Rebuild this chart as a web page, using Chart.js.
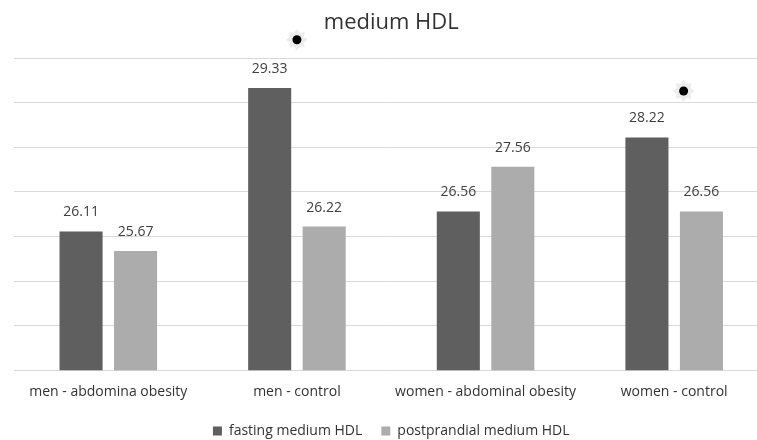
<!DOCTYPE html>
<html>
<head>
<meta charset="utf-8">
<script src="https://cdn.jsdelivr.net/npm/chart.js@4/dist/chart.umd.min.js"></script>
<style>
  html, body { margin: 0; padding: 0; background: #ffffff; overflow: hidden; }
  canvas { display: block; }
</style>
</head>
<body>
<canvas id="c" width="772" height="440"></canvas>
<script>
// ---- data ----
const categories = ["men - abdomina obesity", "men - control", "women - abdominal obesity", "women - control"];
const fastingValues = [26.11, 29.33, 26.56, 28.22];
const postprandialValues = [25.67, 26.22, 27.56, 26.56];
const seriesNames = ["fasting medium HDL", "postprandial medium HDL"];
// significance markers: category index, shift within category, value height
const markerCategory = [1, 3];
const markerShift = [0, 0.05];
const markerY = [30.41, 29.26];
const yMin = 23, yMax = 30, yStep = 1;

function drawMarker(g, cx, cy) {
  const ro = 11, ri = 7.5, n = 8;
  g.beginPath();
  for (let i = 0; i < n * 2; i++) {
    const r = i % 2 === 0 ? ro : ri;
    const a = -Math.PI / 2 + i * Math.PI / n;
    const x = cx + r * Math.cos(a), y = cy + r * Math.sin(a);
    if (i === 0) g.moveTo(x, y); else g.lineTo(x, y);
  }
  g.closePath();
  g.fillStyle = '#ededed';
  g.fill();
  g.beginPath();
  g.arc(cx, cy, 4.5, 0, Math.PI * 2);
  g.fillStyle = '#000000';
  g.fill();
}

const overlay = {
  id: 'overlay',
  afterDatasetsDraw(chart) {
    const ctx = chart.ctx;
    const xs = chart.scales.x, ys = chart.scales.y;
    ctx.save();
    ctx.font = '14px "Open Sans", sans-serif';
    ctx.textAlign = 'center';
    ctx.textBaseline = 'middle';
    [0, 1].forEach(di => {
      const meta = chart.getDatasetMeta(di);
      meta.data.forEach((bar, i) => {
        const v = chart.data.datasets[di].data[i];
        ctx.fillStyle = '#404040';
        ctx.fillText(v.toFixed(2), bar.x, bar.y - 19);
      });
    });
    const catW = xs.getPixelForValue(1) - xs.getPixelForValue(0);
    markerCategory.forEach((c, i) => {
      const px = xs.getPixelForValue(c) + markerShift[i] * catW;
      const py = ys.getPixelForValue(markerY[i]);
      drawMarker(ctx, px, py);
    });
    ctx.restore();
  }
};

new Chart(document.getElementById('c'), {
  type: 'bar',
  data: {
    labels: categories,
    datasets: [
      {
        label: seriesNames[0],
        data: fastingValues,
        backgroundColor: '#5f5f5f',
        borderWidth: 0
      },
      {
        label: seriesNames[1],
        data: postprandialValues,
        backgroundColor: '#acacac',
        borderWidth: 0
      }
    ]
  },
  options: {
    responsive: false,
    animation: false,
    categoryPercentage: 0.578,
    barPercentage: 0.79,
    layout: { padding: { left: 14, right: 3.5, top: 0, bottom: -8 } },
    scales: {
      x: {
        grid: { display: false },
        border: { display: false },
        ticks: {
          color: '#333333',
          padding: 5,
          font: { family: '"Open Sans", sans-serif', size: 14 },
          maxRotation: 0, autoSkip: false
        }
      },
      y: {
        min: yMin,
        max: yMax,
        ticks: { display: false, stepSize: yStep },
        border: { display: false },
        grid: { color: '#d9d9d9', drawTicks: false, lineWidth: 1 }
      }
    },
    plugins: {
      title: {
        display: true,
        text: 'medium HDL',
        color: '#333333',
        font: { family: '"Open Sans", sans-serif', size: 22, weight: 'normal' },
        padding: { top: 10, bottom: 21.6 }
      },
      legend: {
        position: 'bottom',
        labels: {
          boxWidth: 9,
          boxHeight: 9,
          color: '#333333',
          padding: 19,
          font: { family: '"Open Sans", sans-serif', size: 14 }
        }
      },
      tooltip: { enabled: false }
    }
  },
  plugins: [overlay]
});
</script>
</body>
</html>
